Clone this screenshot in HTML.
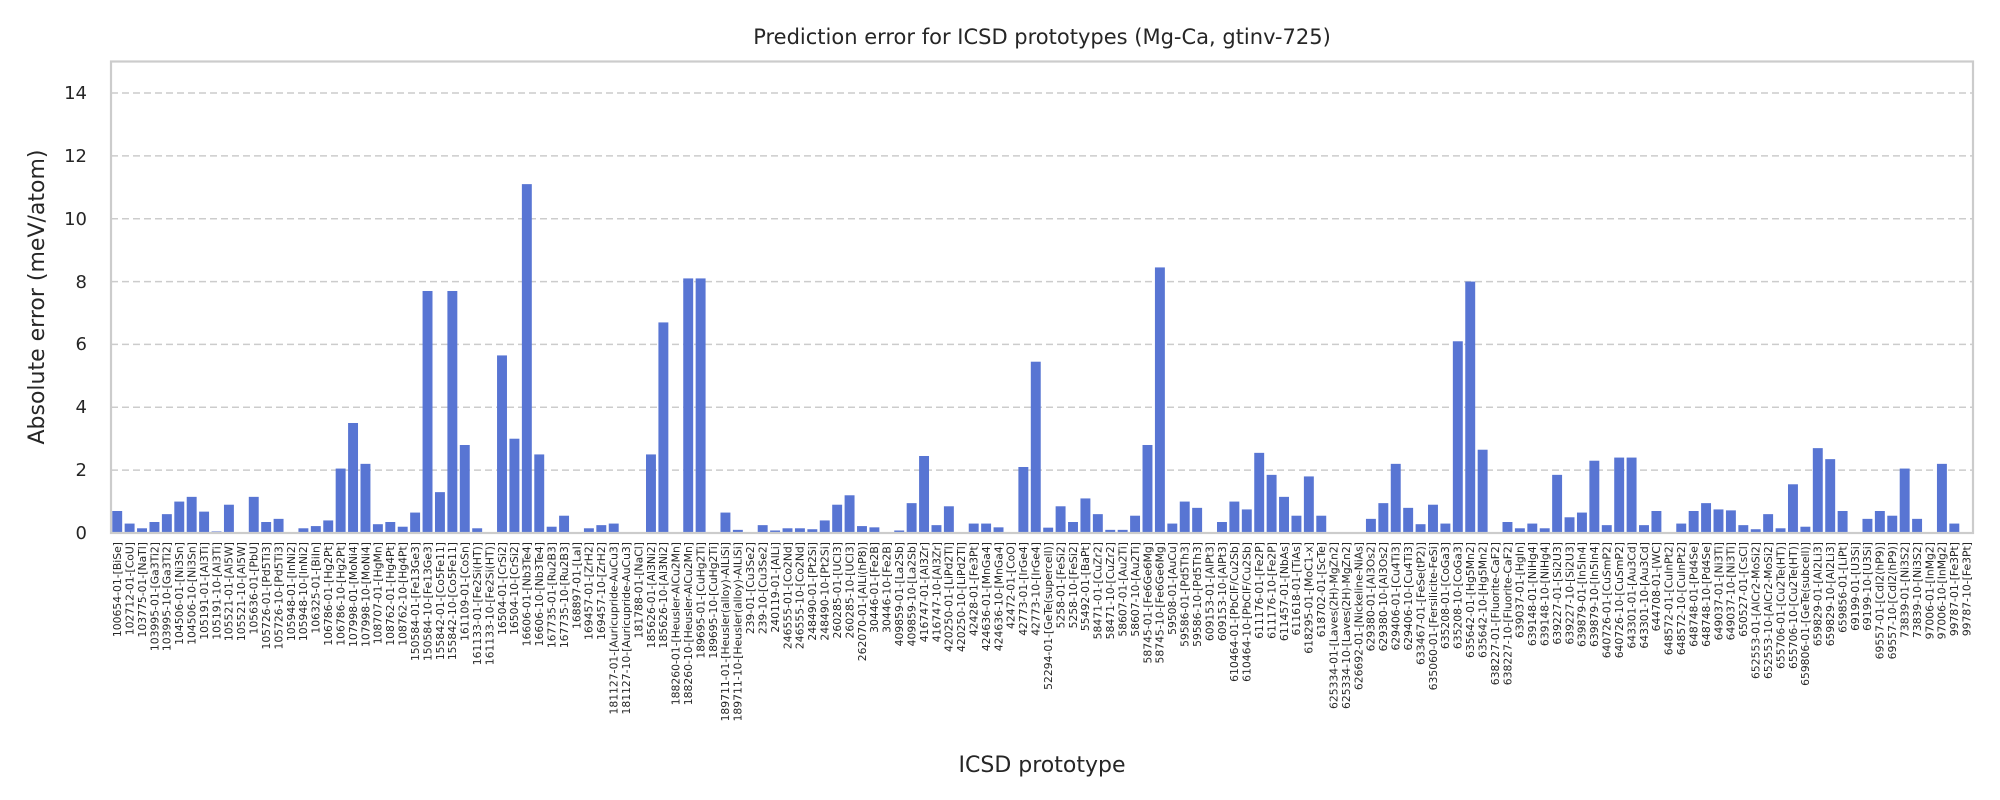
<!DOCTYPE html>
<html><head><meta charset="utf-8"><style>html,body{margin:0;padding:0;background:#fff;}svg{display:block;}</style></head>
<body>
<svg width="2000" height="800" xmlns="http://www.w3.org/2000/svg" font-family="DejaVu Sans, Liberation Sans, sans-serif">
<rect width="2000" height="800" fill="#fff"/>
<text x="1042" y="44" font-size="21" text-anchor="middle" fill="#262626">Prediction error for ICSD prototypes (Mg-Ca, gtinv-725)</text>
<g stroke="#cccccc" stroke-width="1.5" stroke-dasharray="7,4">
<line x1="111" x2="1973" y1="470.1" y2="470.1"/>
<line x1="111" x2="1973" y1="407.3" y2="407.3"/>
<line x1="111" x2="1973" y1="344.4" y2="344.4"/>
<line x1="111" x2="1973" y1="281.6" y2="281.6"/>
<line x1="111" x2="1973" y1="218.7" y2="218.7"/>
<line x1="111" x2="1973" y1="155.9" y2="155.9"/>
<line x1="111" x2="1973" y1="93.0" y2="93.0"/>
</g>
<g font-size="18" fill="#262626" text-anchor="end">
<text x="87" y="539">0</text><text x="87" y="476">2</text><text x="87" y="413">4</text><text x="87" y="350">6</text><text x="87" y="288">8</text><text x="87" y="225">10</text><text x="87" y="162">12</text><text x="87" y="99">14</text>
</g>
<text transform="translate(44,297) rotate(-90)" font-size="22" text-anchor="middle" fill="#262626">Absolute error (meV/atom)</text>
<text x="1042" y="772" font-size="22" text-anchor="middle" fill="#262626">ICSD prototype</text>
<g transform="translate(111,533) scale(12.413,-31.43)" fill="#5875d3">
<rect x="0.1" width="0.8" height="0.7"/><rect x="1.1" width="0.8" height="0.3"/><rect x="2.1" width="0.8" height="0.15"/><rect x="3.1" width="0.8" height="0.35"/><rect x="4.1" width="0.8" height="0.6"/><rect x="5.1" width="0.8" height="1.0"/><rect x="6.1" width="0.8" height="1.15"/><rect x="7.1" width="0.8" height="0.68"/><rect x="8.1" width="0.8" height="0.05"/><rect x="9.1" width="0.8" height="0.9"/>
<rect x="10.1" width="0.8" height="0"/><rect x="11.1" width="0.8" height="1.15"/><rect x="12.1" width="0.8" height="0.35"/><rect x="13.1" width="0.8" height="0.45"/><rect x="14.1" width="0.8" height="0"/><rect x="15.1" width="0.8" height="0.15"/><rect x="16.1" width="0.8" height="0.22"/><rect x="17.1" width="0.8" height="0.4"/><rect x="18.1" width="0.8" height="2.05"/><rect x="19.1" width="0.8" height="3.5"/>
<rect x="20.1" width="0.8" height="2.2"/><rect x="21.1" width="0.8" height="0.28"/><rect x="22.1" width="0.8" height="0.35"/><rect x="23.1" width="0.8" height="0.2"/><rect x="24.1" width="0.8" height="0.65"/><rect x="25.1" width="0.8" height="7.7"/><rect x="26.1" width="0.8" height="1.3"/><rect x="27.1" width="0.8" height="7.7"/><rect x="28.1" width="0.8" height="2.8"/><rect x="29.1" width="0.8" height="0.15"/>
<rect x="30.1" width="0.8" height="0"/><rect x="31.1" width="0.8" height="5.65"/><rect x="32.1" width="0.8" height="3.0"/><rect x="33.1" width="0.8" height="11.1"/><rect x="34.1" width="0.8" height="2.5"/><rect x="35.1" width="0.8" height="0.2"/><rect x="36.1" width="0.8" height="0.55"/><rect x="37.1" width="0.8" height="0.03"/><rect x="38.1" width="0.8" height="0.15"/><rect x="39.1" width="0.8" height="0.25"/>
<rect x="40.1" width="0.8" height="0.3"/><rect x="41.1" width="0.8" height="0"/><rect x="42.1" width="0.8" height="0"/><rect x="43.1" width="0.8" height="2.5"/><rect x="44.1" width="0.8" height="6.7"/><rect x="45.1" width="0.8" height="0"/><rect x="46.1" width="0.8" height="8.1"/><rect x="47.1" width="0.8" height="8.1"/><rect x="48.1" width="0.8" height="0"/><rect x="49.1" width="0.8" height="0.65"/>
<rect x="50.1" width="0.8" height="0.1"/><rect x="51.1" width="0.8" height="0"/><rect x="52.1" width="0.8" height="0.25"/><rect x="53.1" width="0.8" height="0.08"/><rect x="54.1" width="0.8" height="0.15"/><rect x="55.1" width="0.8" height="0.15"/><rect x="56.1" width="0.8" height="0.12"/><rect x="57.1" width="0.8" height="0.4"/><rect x="58.1" width="0.8" height="0.9"/><rect x="59.1" width="0.8" height="1.2"/>
<rect x="60.1" width="0.8" height="0.22"/><rect x="61.1" width="0.8" height="0.18"/><rect x="62.1" width="0.8" height="0"/><rect x="63.1" width="0.8" height="0.08"/><rect x="64.1" width="0.8" height="0.95"/><rect x="65.1" width="0.8" height="2.45"/><rect x="66.1" width="0.8" height="0.25"/><rect x="67.1" width="0.8" height="0.85"/><rect x="68.1" width="0.8" height="0.03"/><rect x="69.1" width="0.8" height="0.3"/>
<rect x="70.1" width="0.8" height="0.3"/><rect x="71.1" width="0.8" height="0.18"/><rect x="72.1" width="0.8" height="0"/><rect x="73.1" width="0.8" height="2.1"/><rect x="74.1" width="0.8" height="5.45"/><rect x="75.1" width="0.8" height="0.17"/><rect x="76.1" width="0.8" height="0.85"/><rect x="77.1" width="0.8" height="0.35"/><rect x="78.1" width="0.8" height="1.1"/><rect x="79.1" width="0.8" height="0.6"/>
<rect x="80.1" width="0.8" height="0.1"/><rect x="81.1" width="0.8" height="0.1"/><rect x="82.1" width="0.8" height="0.55"/><rect x="83.1" width="0.8" height="2.8"/><rect x="84.1" width="0.8" height="8.45"/><rect x="85.1" width="0.8" height="0.3"/><rect x="86.1" width="0.8" height="1.0"/><rect x="87.1" width="0.8" height="0.8"/><rect x="88.1" width="0.8" height="0.03"/><rect x="89.1" width="0.8" height="0.35"/>
<rect x="90.1" width="0.8" height="1.0"/><rect x="91.1" width="0.8" height="0.75"/><rect x="92.1" width="0.8" height="2.55"/><rect x="93.1" width="0.8" height="1.85"/><rect x="94.1" width="0.8" height="1.15"/><rect x="95.1" width="0.8" height="0.55"/><rect x="96.1" width="0.8" height="1.8"/><rect x="97.1" width="0.8" height="0.55"/><rect x="98.1" width="0.8" height="0"/><rect x="99.1" width="0.8" height="0"/>
<rect x="100.1" width="0.8" height="0.03"/><rect x="101.1" width="0.8" height="0.45"/><rect x="102.1" width="0.8" height="0.95"/><rect x="103.1" width="0.8" height="2.2"/><rect x="104.1" width="0.8" height="0.8"/><rect x="105.1" width="0.8" height="0.28"/><rect x="106.1" width="0.8" height="0.9"/><rect x="107.1" width="0.8" height="0.3"/><rect x="108.1" width="0.8" height="6.1"/><rect x="109.1" width="0.8" height="8.0"/>
<rect x="110.1" width="0.8" height="2.65"/><rect x="111.1" width="0.8" height="0"/><rect x="112.1" width="0.8" height="0.35"/><rect x="113.1" width="0.8" height="0.15"/><rect x="114.1" width="0.8" height="0.3"/><rect x="115.1" width="0.8" height="0.15"/><rect x="116.1" width="0.8" height="1.85"/><rect x="117.1" width="0.8" height="0.5"/><rect x="118.1" width="0.8" height="0.65"/><rect x="119.1" width="0.8" height="2.3"/>
<rect x="120.1" width="0.8" height="0.25"/><rect x="121.1" width="0.8" height="2.4"/><rect x="122.1" width="0.8" height="2.4"/><rect x="123.1" width="0.8" height="0.25"/><rect x="124.1" width="0.8" height="0.7"/><rect x="125.1" width="0.8" height="0"/><rect x="126.1" width="0.8" height="0.3"/><rect x="127.1" width="0.8" height="0.7"/><rect x="128.1" width="0.8" height="0.95"/><rect x="129.1" width="0.8" height="0.75"/>
<rect x="130.1" width="0.8" height="0.72"/><rect x="131.1" width="0.8" height="0.25"/><rect x="132.1" width="0.8" height="0.12"/><rect x="133.1" width="0.8" height="0.6"/><rect x="134.1" width="0.8" height="0.15"/><rect x="135.1" width="0.8" height="1.55"/><rect x="136.1" width="0.8" height="0.2"/><rect x="137.1" width="0.8" height="2.7"/><rect x="138.1" width="0.8" height="2.35"/><rect x="139.1" width="0.8" height="0.7"/>
<rect x="140.1" width="0.8" height="0"/><rect x="141.1" width="0.8" height="0.45"/><rect x="142.1" width="0.8" height="0.7"/><rect x="143.1" width="0.8" height="0.55"/><rect x="144.1" width="0.8" height="2.05"/><rect x="145.1" width="0.8" height="0.45"/><rect x="146.1" width="0.8" height="0"/><rect x="147.1" width="0.8" height="2.2"/><rect x="148.1" width="0.8" height="0.3"/><rect x="149.1" width="0.8" height="0"/>
</g>
<rect x="111" y="61.5" width="1862" height="471.5" fill="none" stroke="#cccccc" stroke-width="2.2"/>
<g transform="translate(117.2,542) scale(12.413,1)" font-size="10.8" fill="#262626" text-anchor="end">
<text transform="translate(0) scale(0.080561,1) rotate(-90)" dy="3.8">100654-01-[BiSe]</text>
<text transform="translate(1) scale(0.080561,1) rotate(-90)" dy="3.8">102712-01-[CoU]</text>
<text transform="translate(2) scale(0.080561,1) rotate(-90)" dy="3.8">103775-01-[NaTl]</text>
<text transform="translate(3) scale(0.080561,1) rotate(-90)" dy="3.8">103995-01-[Ga3Ti2]</text>
<text transform="translate(4) scale(0.080561,1) rotate(-90)" dy="3.8">103995-10-[Ga3Ti2]</text>
<text transform="translate(5) scale(0.080561,1) rotate(-90)" dy="3.8">104506-01-[Ni3Sn]</text>
<text transform="translate(6) scale(0.080561,1) rotate(-90)" dy="3.8">104506-10-[Ni3Sn]</text>
<text transform="translate(7) scale(0.080561,1) rotate(-90)" dy="3.8">105191-01-[Al3Ti]</text>
<text transform="translate(8) scale(0.080561,1) rotate(-90)" dy="3.8">105191-10-[Al3Ti]</text>
<text transform="translate(9) scale(0.080561,1) rotate(-90)" dy="3.8">105521-01-[Al5W]</text>
<text transform="translate(10) scale(0.080561,1) rotate(-90)" dy="3.8">105521-10-[Al5W]</text>
<text transform="translate(11) scale(0.080561,1) rotate(-90)" dy="3.8">105636-01-[PbU]</text>
<text transform="translate(12) scale(0.080561,1) rotate(-90)" dy="3.8">105726-01-[Pd5Ti3]</text>
<text transform="translate(13) scale(0.080561,1) rotate(-90)" dy="3.8">105726-10-[Pd5Ti3]</text>
<text transform="translate(14) scale(0.080561,1) rotate(-90)" dy="3.8">105948-01-[InNi2]</text>
<text transform="translate(15) scale(0.080561,1) rotate(-90)" dy="3.8">105948-10-[InNi2]</text>
<text transform="translate(16) scale(0.080561,1) rotate(-90)" dy="3.8">106325-01-[BiIn]</text>
<text transform="translate(17) scale(0.080561,1) rotate(-90)" dy="3.8">106786-01-[Hg2Pt]</text>
<text transform="translate(18) scale(0.080561,1) rotate(-90)" dy="3.8">106786-10-[Hg2Pt]</text>
<text transform="translate(19) scale(0.080561,1) rotate(-90)" dy="3.8">107998-01-[MoNi4]</text>
<text transform="translate(20) scale(0.080561,1) rotate(-90)" dy="3.8">107998-10-[MoNi4]</text>
<text transform="translate(21) scale(0.080561,1) rotate(-90)" dy="3.8">108707-01-[HgMn]</text>
<text transform="translate(22) scale(0.080561,1) rotate(-90)" dy="3.8">108762-01-[Hg4Pt]</text>
<text transform="translate(23) scale(0.080561,1) rotate(-90)" dy="3.8">108762-10-[Hg4Pt]</text>
<text transform="translate(24) scale(0.080561,1) rotate(-90)" dy="3.8">150584-01-[Fe13Ge3]</text>
<text transform="translate(25) scale(0.080561,1) rotate(-90)" dy="3.8">150584-10-[Fe13Ge3]</text>
<text transform="translate(26) scale(0.080561,1) rotate(-90)" dy="3.8">155842-01-[Co5Fe11]</text>
<text transform="translate(27) scale(0.080561,1) rotate(-90)" dy="3.8">155842-10-[Co5Fe11]</text>
<text transform="translate(28) scale(0.080561,1) rotate(-90)" dy="3.8">161109-01-[CoSn]</text>
<text transform="translate(29) scale(0.080561,1) rotate(-90)" dy="3.8">161133-01-[Fe2Si(HT)]</text>
<text transform="translate(30) scale(0.080561,1) rotate(-90)" dy="3.8">161133-10-[Fe2Si(HT)]</text>
<text transform="translate(31) scale(0.080561,1) rotate(-90)" dy="3.8">16504-01-[CrSi2]</text>
<text transform="translate(32) scale(0.080561,1) rotate(-90)" dy="3.8">16504-10-[CrSi2]</text>
<text transform="translate(33) scale(0.080561,1) rotate(-90)" dy="3.8">16606-01-[Nb3Te4]</text>
<text transform="translate(34) scale(0.080561,1) rotate(-90)" dy="3.8">16606-10-[Nb3Te4]</text>
<text transform="translate(35) scale(0.080561,1) rotate(-90)" dy="3.8">167735-01-[Ru2B3]</text>
<text transform="translate(36) scale(0.080561,1) rotate(-90)" dy="3.8">167735-10-[Ru2B3]</text>
<text transform="translate(37) scale(0.080561,1) rotate(-90)" dy="3.8">168897-01-[LaI]</text>
<text transform="translate(38) scale(0.080561,1) rotate(-90)" dy="3.8">169457-01-[ZrH2]</text>
<text transform="translate(39) scale(0.080561,1) rotate(-90)" dy="3.8">169457-10-[ZrH2]</text>
<text transform="translate(40) scale(0.080561,1) rotate(-90)" dy="3.8">181127-01-[Auricupride-AuCu3]</text>
<text transform="translate(41) scale(0.080561,1) rotate(-90)" dy="3.8">181127-10-[Auricupride-AuCu3]</text>
<text transform="translate(42) scale(0.080561,1) rotate(-90)" dy="3.8">181788-01-[NaCl]</text>
<text transform="translate(43) scale(0.080561,1) rotate(-90)" dy="3.8">185626-01-[Al3Ni2]</text>
<text transform="translate(44) scale(0.080561,1) rotate(-90)" dy="3.8">185626-10-[Al3Ni2]</text>
<text transform="translate(45) scale(0.080561,1) rotate(-90)" dy="3.8">188260-01-[Heusler-AlCu2Mn]</text>
<text transform="translate(46) scale(0.080561,1) rotate(-90)" dy="3.8">188260-10-[Heusler-AlCu2Mn]</text>
<text transform="translate(47) scale(0.080561,1) rotate(-90)" dy="3.8">189695-01-[CuHg2Ti]</text>
<text transform="translate(48) scale(0.080561,1) rotate(-90)" dy="3.8">189695-10-[CuHg2Ti]</text>
<text transform="translate(49) scale(0.080561,1) rotate(-90)" dy="3.8">189711-01-[Heusler(alloy)-AlLiSi]</text>
<text transform="translate(50) scale(0.080561,1) rotate(-90)" dy="3.8">189711-10-[Heusler(alloy)-AlLiSi]</text>
<text transform="translate(51) scale(0.080561,1) rotate(-90)" dy="3.8">239-01-[Cu3Se2]</text>
<text transform="translate(52) scale(0.080561,1) rotate(-90)" dy="3.8">239-10-[Cu3Se2]</text>
<text transform="translate(53) scale(0.080561,1) rotate(-90)" dy="3.8">240119-01-[AlLi]</text>
<text transform="translate(54) scale(0.080561,1) rotate(-90)" dy="3.8">246555-01-[Co2Nd]</text>
<text transform="translate(55) scale(0.080561,1) rotate(-90)" dy="3.8">246555-10-[Co2Nd]</text>
<text transform="translate(56) scale(0.080561,1) rotate(-90)" dy="3.8">248490-01-[Pt2Si]</text>
<text transform="translate(57) scale(0.080561,1) rotate(-90)" dy="3.8">248490-10-[Pt2Si]</text>
<text transform="translate(58) scale(0.080561,1) rotate(-90)" dy="3.8">260285-01-[UCl3]</text>
<text transform="translate(59) scale(0.080561,1) rotate(-90)" dy="3.8">260285-10-[UCl3]</text>
<text transform="translate(60) scale(0.080561,1) rotate(-90)" dy="3.8">262070-01-[AlLi(hP8)]</text>
<text transform="translate(61) scale(0.080561,1) rotate(-90)" dy="3.8">30446-01-[Fe2B]</text>
<text transform="translate(62) scale(0.080561,1) rotate(-90)" dy="3.8">30446-10-[Fe2B]</text>
<text transform="translate(63) scale(0.080561,1) rotate(-90)" dy="3.8">409859-01-[La2Sb]</text>
<text transform="translate(64) scale(0.080561,1) rotate(-90)" dy="3.8">409859-10-[La2Sb]</text>
<text transform="translate(65) scale(0.080561,1) rotate(-90)" dy="3.8">416747-01-[Al3Zr]</text>
<text transform="translate(66) scale(0.080561,1) rotate(-90)" dy="3.8">416747-10-[Al3Zr]</text>
<text transform="translate(67) scale(0.080561,1) rotate(-90)" dy="3.8">420250-01-[LiPd2Tl]</text>
<text transform="translate(68) scale(0.080561,1) rotate(-90)" dy="3.8">420250-10-[LiPd2Tl]</text>
<text transform="translate(69) scale(0.080561,1) rotate(-90)" dy="3.8">42428-01-[Fe3Pt]</text>
<text transform="translate(70) scale(0.080561,1) rotate(-90)" dy="3.8">424636-01-[MnGa4]</text>
<text transform="translate(71) scale(0.080561,1) rotate(-90)" dy="3.8">424636-10-[MnGa4]</text>
<text transform="translate(72) scale(0.080561,1) rotate(-90)" dy="3.8">42472-01-[CoO]</text>
<text transform="translate(73) scale(0.080561,1) rotate(-90)" dy="3.8">42773-01-[IrGe4]</text>
<text transform="translate(74) scale(0.080561,1) rotate(-90)" dy="3.8">42773-10-[IrGe4]</text>
<text transform="translate(75) scale(0.080561,1) rotate(-90)" dy="3.8">52294-01-[GeTe(supercell)]</text>
<text transform="translate(76) scale(0.080561,1) rotate(-90)" dy="3.8">5258-01-[FeSi2]</text>
<text transform="translate(77) scale(0.080561,1) rotate(-90)" dy="3.8">5258-10-[FeSi2]</text>
<text transform="translate(78) scale(0.080561,1) rotate(-90)" dy="3.8">55492-01-[BaPt]</text>
<text transform="translate(79) scale(0.080561,1) rotate(-90)" dy="3.8">58471-01-[CuZr2]</text>
<text transform="translate(80) scale(0.080561,1) rotate(-90)" dy="3.8">58471-10-[CuZr2]</text>
<text transform="translate(81) scale(0.080561,1) rotate(-90)" dy="3.8">58607-01-[Au2Ti]</text>
<text transform="translate(82) scale(0.080561,1) rotate(-90)" dy="3.8">58607-10-[Au2Ti]</text>
<text transform="translate(83) scale(0.080561,1) rotate(-90)" dy="3.8">58745-01-[Fe6Ge6Mg]</text>
<text transform="translate(84) scale(0.080561,1) rotate(-90)" dy="3.8">58745-10-[Fe6Ge6Mg]</text>
<text transform="translate(85) scale(0.080561,1) rotate(-90)" dy="3.8">59508-01-[AuCu]</text>
<text transform="translate(86) scale(0.080561,1) rotate(-90)" dy="3.8">59586-01-[Pd5Th3]</text>
<text transform="translate(87) scale(0.080561,1) rotate(-90)" dy="3.8">59586-10-[Pd5Th3]</text>
<text transform="translate(88) scale(0.080561,1) rotate(-90)" dy="3.8">609153-01-[AlPt3]</text>
<text transform="translate(89) scale(0.080561,1) rotate(-90)" dy="3.8">609153-10-[AlPt3]</text>
<text transform="translate(90) scale(0.080561,1) rotate(-90)" dy="3.8">610464-01-[PbClF/Cu2Sb]</text>
<text transform="translate(91) scale(0.080561,1) rotate(-90)" dy="3.8">610464-10-[PbClF/Cu2Sb]</text>
<text transform="translate(92) scale(0.080561,1) rotate(-90)" dy="3.8">611176-01-[Fe2P]</text>
<text transform="translate(93) scale(0.080561,1) rotate(-90)" dy="3.8">611176-10-[Fe2P]</text>
<text transform="translate(94) scale(0.080561,1) rotate(-90)" dy="3.8">611457-01-[NbAs]</text>
<text transform="translate(95) scale(0.080561,1) rotate(-90)" dy="3.8">611618-01-[TiAs]</text>
<text transform="translate(96) scale(0.080561,1) rotate(-90)" dy="3.8">618295-01-[MoC1-x]</text>
<text transform="translate(97) scale(0.080561,1) rotate(-90)" dy="3.8">618702-01-[ScTe]</text>
<text transform="translate(98) scale(0.080561,1) rotate(-90)" dy="3.8">625334-01-[Laves(2H)-MgZn2]</text>
<text transform="translate(99) scale(0.080561,1) rotate(-90)" dy="3.8">625334-10-[Laves(2H)-MgZn2]</text>
<text transform="translate(100) scale(0.080561,1) rotate(-90)" dy="3.8">626692-01-[Nickeline-NiAs]</text>
<text transform="translate(101) scale(0.080561,1) rotate(-90)" dy="3.8">629380-01-[Al3Os2]</text>
<text transform="translate(102) scale(0.080561,1) rotate(-90)" dy="3.8">629380-10-[Al3Os2]</text>
<text transform="translate(103) scale(0.080561,1) rotate(-90)" dy="3.8">629406-01-[Cu4Ti3]</text>
<text transform="translate(104) scale(0.080561,1) rotate(-90)" dy="3.8">629406-10-[Cu4Ti3]</text>
<text transform="translate(105) scale(0.080561,1) rotate(-90)" dy="3.8">633467-01-[FeSe(tP2)]</text>
<text transform="translate(106) scale(0.080561,1) rotate(-90)" dy="3.8">635060-01-[Fersilicite-FeSi]</text>
<text transform="translate(107) scale(0.080561,1) rotate(-90)" dy="3.8">635208-01-[CoGa3]</text>
<text transform="translate(108) scale(0.080561,1) rotate(-90)" dy="3.8">635208-10-[CoGa3]</text>
<text transform="translate(109) scale(0.080561,1) rotate(-90)" dy="3.8">635642-01-[Hg5Mn2]</text>
<text transform="translate(110) scale(0.080561,1) rotate(-90)" dy="3.8">635642-10-[Hg5Mn2]</text>
<text transform="translate(111) scale(0.080561,1) rotate(-90)" dy="3.8">638227-01-[Fluorite-CaF2]</text>
<text transform="translate(112) scale(0.080561,1) rotate(-90)" dy="3.8">638227-10-[Fluorite-CaF2]</text>
<text transform="translate(113) scale(0.080561,1) rotate(-90)" dy="3.8">639037-01-[HgIn]</text>
<text transform="translate(114) scale(0.080561,1) rotate(-90)" dy="3.8">639148-01-[NiHg4]</text>
<text transform="translate(115) scale(0.080561,1) rotate(-90)" dy="3.8">639148-10-[NiHg4]</text>
<text transform="translate(116) scale(0.080561,1) rotate(-90)" dy="3.8">639227-01-[Si2U3]</text>
<text transform="translate(117) scale(0.080561,1) rotate(-90)" dy="3.8">639227-10-[Si2U3]</text>
<text transform="translate(118) scale(0.080561,1) rotate(-90)" dy="3.8">639879-01-[In5In4]</text>
<text transform="translate(119) scale(0.080561,1) rotate(-90)" dy="3.8">639879-10-[In5In4]</text>
<text transform="translate(120) scale(0.080561,1) rotate(-90)" dy="3.8">640726-01-[CuSmP2]</text>
<text transform="translate(121) scale(0.080561,1) rotate(-90)" dy="3.8">640726-10-[CuSmP2]</text>
<text transform="translate(122) scale(0.080561,1) rotate(-90)" dy="3.8">643301-01-[Au3Cd]</text>
<text transform="translate(123) scale(0.080561,1) rotate(-90)" dy="3.8">643301-10-[Au3Cd]</text>
<text transform="translate(124) scale(0.080561,1) rotate(-90)" dy="3.8">644708-01-[WC]</text>
<text transform="translate(125) scale(0.080561,1) rotate(-90)" dy="3.8">648572-01-[CuInPt2]</text>
<text transform="translate(126) scale(0.080561,1) rotate(-90)" dy="3.8">648572-10-[CuInPt2]</text>
<text transform="translate(127) scale(0.080561,1) rotate(-90)" dy="3.8">648748-01-[Pd4Se]</text>
<text transform="translate(128) scale(0.080561,1) rotate(-90)" dy="3.8">648748-10-[Pd4Se]</text>
<text transform="translate(129) scale(0.080561,1) rotate(-90)" dy="3.8">649037-01-[Ni3Ti]</text>
<text transform="translate(130) scale(0.080561,1) rotate(-90)" dy="3.8">649037-10-[Ni3Ti]</text>
<text transform="translate(131) scale(0.080561,1) rotate(-90)" dy="3.8">650527-01-[CsCl]</text>
<text transform="translate(132) scale(0.080561,1) rotate(-90)" dy="3.8">652553-01-[AlCr2-MoSi2]</text>
<text transform="translate(133) scale(0.080561,1) rotate(-90)" dy="3.8">652553-10-[AlCr2-MoSi2]</text>
<text transform="translate(134) scale(0.080561,1) rotate(-90)" dy="3.8">655706-01-[Cu2Te(HT)]</text>
<text transform="translate(135) scale(0.080561,1) rotate(-90)" dy="3.8">655706-10-[Cu2Te(HT)]</text>
<text transform="translate(136) scale(0.080561,1) rotate(-90)" dy="3.8">659806-01-[GeTe(subcell)]</text>
<text transform="translate(137) scale(0.080561,1) rotate(-90)" dy="3.8">659829-01-[Al2Li3]</text>
<text transform="translate(138) scale(0.080561,1) rotate(-90)" dy="3.8">659829-10-[Al2Li3]</text>
<text transform="translate(139) scale(0.080561,1) rotate(-90)" dy="3.8">659856-01-[LiPt]</text>
<text transform="translate(140) scale(0.080561,1) rotate(-90)" dy="3.8">69199-01-[U3Si]</text>
<text transform="translate(141) scale(0.080561,1) rotate(-90)" dy="3.8">69199-10-[U3Si]</text>
<text transform="translate(142) scale(0.080561,1) rotate(-90)" dy="3.8">69557-01-[CdI2(hP9)]</text>
<text transform="translate(143) scale(0.080561,1) rotate(-90)" dy="3.8">69557-10-[CdI2(hP9)]</text>
<text transform="translate(144) scale(0.080561,1) rotate(-90)" dy="3.8">73839-01-[Ni3S2]</text>
<text transform="translate(145) scale(0.080561,1) rotate(-90)" dy="3.8">73839-10-[Ni3S2]</text>
<text transform="translate(146) scale(0.080561,1) rotate(-90)" dy="3.8">97006-01-[InMg2]</text>
<text transform="translate(147) scale(0.080561,1) rotate(-90)" dy="3.8">97006-10-[InMg2]</text>
<text transform="translate(148) scale(0.080561,1) rotate(-90)" dy="3.8">99787-01-[Fe3Pt]</text>
<text transform="translate(149) scale(0.080561,1) rotate(-90)" dy="3.8">99787-10-[Fe3Pt]</text>
</g>
</svg>
</body></html>
